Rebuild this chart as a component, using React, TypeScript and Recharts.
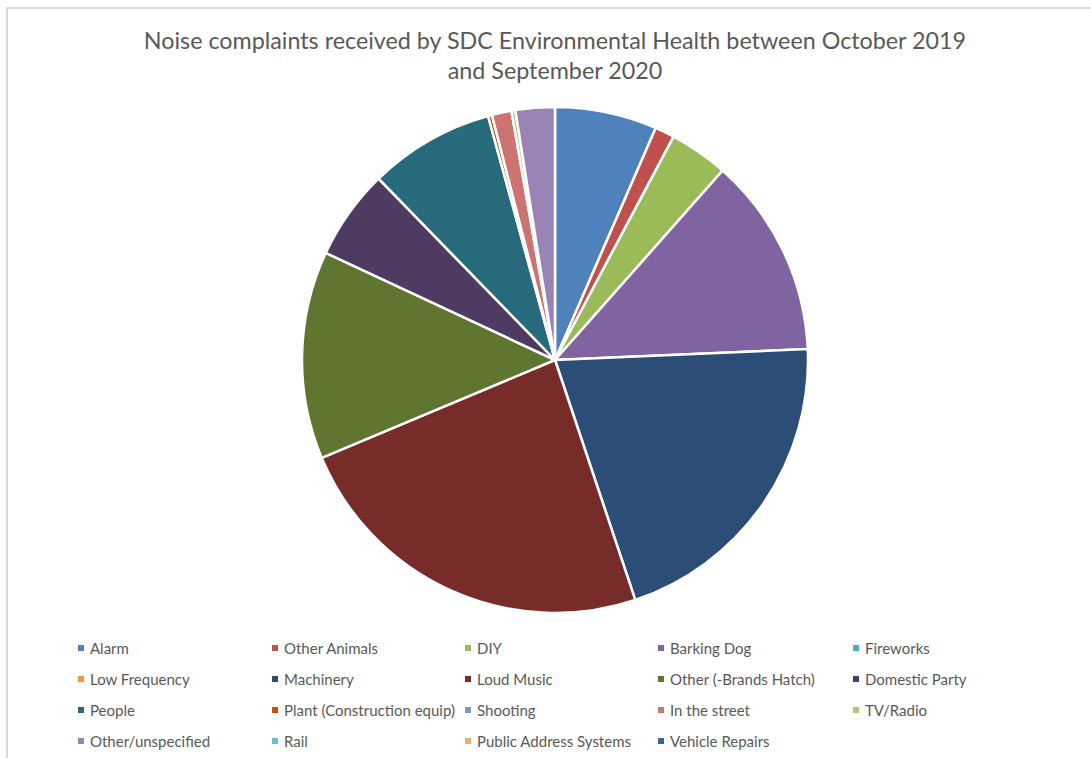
import React from "react";
import { PieChart, Pie, Cell } from "recharts";

const categories = [
  "Alarm",
  "Other Animals",
  "DIY",
  "Barking Dog",
  "Fireworks",
  "Low Frequency",
  "Machinery",
  "Loud Music",
  "Other (-Brands Hatch)",
  "Domestic Party",
  "People",
  "Plant (Construction equip)",
  "Shooting",
  "In the street",
  "TV/Radio",
  "Other/unspecified",
  "Rail",
  "Public Address Systems",
  "Vehicle Repairs",
];

const complaints = [26, 5, 15, 51, 0, 0, 82, 95, 53, 23, 32, 1, 0, 5, 1, 10, 0, 0, 0];

const colors = [
  "#4F81BD",
  "#C0504D",
  "#9BBB59",
  "#8064A2",
  "#4BACC6",
  "#F79646",
  "#2C4D75",
  "#772C2A",
  "#5F7530",
  "#4D3B62",
  "#276A7C",
  "#B65708",
  "#729ACA",
  "#CD7371",
  "#AFC97A",
  "#9983B5",
  "#6FBDD1",
  "#F9AB6B",
  "#3A679C",
];

const titleLines = [
  "Noise complaints received by SDC Environmental Health between October 2019",
  "and September 2020",
];

const data = categories.map((name, i) => ({ name, value: complaints[i] }));

const FONT = "Lato, 'Open Sans', sans-serif";
const TEXT = "#595959";

const legendCols = [78, 272, 465, 658, 853];
const legendRows = [648, 679, 710, 741];

export default function App() {
  return (
    <div
      style={{
        position: "absolute",
        left: 0,
        top: 0,
        width: 1091,
        height: 758,
        background: "#fff",
        overflow: "hidden",
        fontFamily: FONT,
      }}
    >
      <div
        style={{
          position: "absolute",
          left: 6,
          top: 7,
          width: 1200,
          height: 800,
          borderLeft: "2px solid #D9D9D9",
          borderTop: "2px solid #D9D9D9",
          boxSizing: "border-box",
        }}
      />
      <div style={{ position: "absolute", left: 0, top: 0 }}>
        <PieChart width={1091} height={758} margin={{ top: 0, right: 0, bottom: 0, left: 0 }}>
          <Pie
            data={data}
            dataKey="value"
            nameKey="name"
            cx={555}
            cy={360}
            outerRadius={253}
            startAngle={90}
            endAngle={-270}
            stroke="#FFFFFF"
            strokeWidth={2.5}
            isAnimationActive={false}
            label={false}
            labelLine={false}
          >
            {data.map((d, i) => (
              <Cell key={d.name} fill={colors[i]} />
            ))}
          </Pie>
        </PieChart>
      </div>
      {titleLines.map((t, i) => (
        <div
          key={t}
          style={{
            position: "absolute",
            left: 0,
            width: 1110,
            top: 40 + i * 30 - 15,
            height: 30,
            lineHeight: "30px",
            textAlign: "center",
            fontSize: 23.3,
            color: TEXT,
            whiteSpace: "nowrap",
          }}
        >
          {t}
        </div>
      ))}
      {categories.map((name, i) => {
        const col = i % 5;
        const row = Math.floor(i / 5);
        return (
          <div
            key={name}
            style={{
              position: "absolute",
              left: legendCols[col],
              top: legendRows[row] - 10,
              height: 20,
              display: "flex",
              alignItems: "center",
              whiteSpace: "nowrap",
              fontSize: 15,
              color: TEXT,
            }}
          >
            <span
              style={{
                display: "inline-block",
                width: 6,
                height: 6,
                background: colors[i],
                marginRight: 6,
              }}
            />
            {name}
          </div>
        );
      })}
    </div>
  );
}
